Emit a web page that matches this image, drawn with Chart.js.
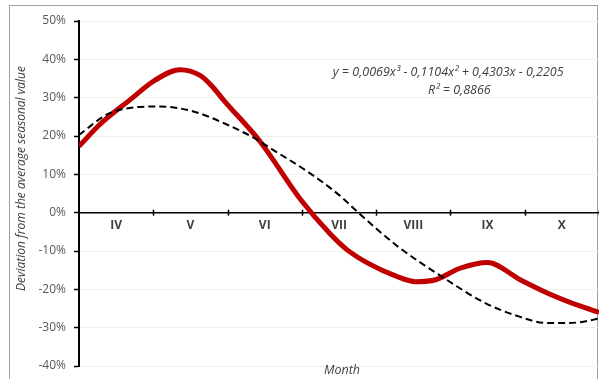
<!DOCTYPE html>
<html>
<head>
<meta charset="utf-8">
<script src="https://cdn.jsdelivr.net/npm/chart.js@4.4.1/dist/chart.umd.min.js"></script>
<style>
  html, body { margin: 0; padding: 0; background: #fff; }
</style>
</head>
<body>
<canvas id="myChart" width="599" height="379"></canvas>
<script>
const months = ['IV', 'V', 'VI', 'VII', 'VIII', 'IX', 'X'];

// position along the month axis (0 = start of IV, 7 = end of X), values in %
const actualPos = [0, 0.28, 0.69, 1.02, 1.36, 1.63, 1.80, 1.94, 2.44, 2.98, 3.38, 3.61, 3.92, 4.26, 4.53, 4.80, 5.13, 5.50, 5.94, 6.31, 6.75, 7];
const actualVals = [17.3, 23, 29.5, 34.5, 37.3, 35.8, 32.8, 29.5, 18.5, 3.5, -5.5, -9.7, -13.5, -16.5, -18, -17.5, -14.5, -13, -17.5, -21, -24.4, -26];

const trendPos = [0, 0.42, 1.09, 1.54, 1.99, 2.40, 2.61, 3.07, 3.52, 3.76, 4.29, 4.87, 5.47, 5.85, 6.31, 6.58, 6.93, 7];
const trendVals = [20.3, 26, 27.7, 26.4, 23, 19, 16.4, 10.8, 4.3, 0, -8.8, -16.5, -23.6, -26.6, -28.8, -28.8, -27.9, -27.5];

const trendEquation = 'y = 0,0069x\u00B3 - 0,1104x\u00B2 + 0,4303x - 0,2205';
const trendR2 = 'R\u00B2 = 0,8866';

const FONT = "'Open Sans', 'Liberation Sans', sans-serif";

function toPoints(xs, ys) {
  return xs.map((x, i) => ({ x, y: ys[i] }));
}

// frame, crossing ticks on the zero line, trendline label and axis titles
const extras = {
  id: 'extras',
  beforeDraw(chart) {
    const ctx = chart.ctx;
    ctx.save();
    ctx.strokeStyle = '#a0a0a0';
    ctx.lineWidth = 1;
    ctx.strokeRect(9.5, 5.5, chart.width - 11, chart.height + 10);
    ctx.restore();
  },
  afterDraw(chart) {
    const ctx = chart.ctx;
    const x = chart.scales.x, y = chart.scales.y;
    const area = chart.chartArea;
    const y0 = y.getPixelForValue(0);
    ctx.save();
    ctx.strokeStyle = '#000';
    ctx.lineWidth = 1.5;
    for (let i = 1; i <= months.length; i++) {
      const px = Math.round(x.getPixelForValue(i)) + 0.5;
      ctx.beginPath();
      ctx.moveTo(px, y0 - 3);
      ctx.lineTo(px, y0 + 3);
      ctx.stroke();
    }

    ctx.fillStyle = '#404040';
    ctx.textAlign = 'center';
    ctx.textBaseline = 'middle';
    ctx.font = 'italic 12.5px ' + FONT;
    ctx.fillText(trendEquation, x.getPixelForValue(4.97), y.getPixelForValue(36.5));
    ctx.fillText(trendR2, x.getPixelForValue(5.12), y.getPixelForValue(31.8));

    ctx.font = 'italic 12.5px ' + FONT;
    ctx.fillText('Month', (area.left + area.right) / 2 + 3, area.bottom + 4);

    ctx.font = 'italic 12px ' + FONT;
    ctx.translate(22, (area.top + area.bottom) / 2 - 15);
    ctx.rotate(-Math.PI / 2);
    ctx.fillText('Deviation from the average seasonal value', 0, 0);
    ctx.restore();
  }
};

new Chart(document.getElementById('myChart'), {
  type: 'line',
  data: {
    datasets: [
      {
        label: 'Trend',
        data: toPoints(trendPos, trendVals),
        borderColor: '#000',
        borderWidth: 2,
        borderDash: [7, 4],
        pointRadius: 0,
        fill: false,
        cubicInterpolationMode: 'monotone',
        order: 0
      },
      {
        label: 'Deviation',
        data: toPoints(actualPos, actualVals),
        borderColor: '#c00000',
        borderWidth: 5,
        pointRadius: 0,
        fill: false,
        cubicInterpolationMode: 'monotone',
        order: 1
      }
    ]
  },
  options: {
    responsive: false,
    animation: false,
    layout: { padding: { left: 0, right: 0, top: 21, bottom: 13 } },
    plugins: {
      legend: { display: false },
      tooltip: { enabled: false }
    },
    scales: {
      x: {
        type: 'linear',
        min: 0,
        max: 7,
        position: { y: 0 },
        afterBuildTicks: scale => { scale.ticks = months.map((m, i) => ({ value: i + 0.5 })); },
        grid: { display: false, drawTicks: false },
        border: { display: true, color: '#000', width: 1.5 },
        ticks: {
          padding: 6,
          maxRotation: 0,
          autoSkip: false,
          color: '#404040',
          font: { family: FONT, size: 12, weight: 'bold' },
          callback: v => months[Math.floor(v)]
        }
      },
      y: {
        min: -40,
        max: 50,
        afterFit: scale => {
          scale.width = 79;
          scale.paddingTop = 0;
          scale.paddingBottom = 0;
        },
        grid: { color: '#f0f0e2', lineWidth: 1, tickColor: '#000', tickLength: 5, tickWidth: 1.5 },
        border: { color: '#000', width: 2 },
        ticks: {
          stepSize: 10,
          padding: 8,
          color: '#595959',
          font: { family: FONT, size: 12 },
          callback: v => v + '%'
        }
      }
    }
  },
  plugins: [extras]
});
</script>
</body>
</html>
